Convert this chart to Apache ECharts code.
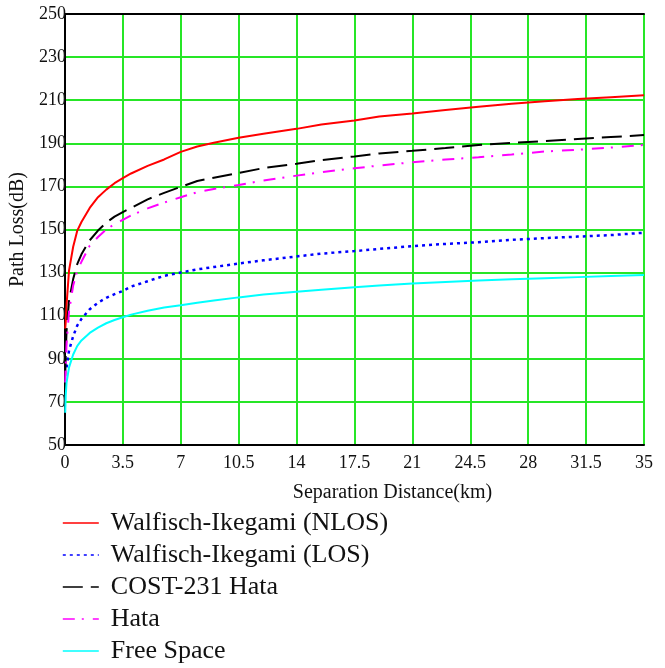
<!DOCTYPE html>
<html>
<head>
<meta charset="utf-8">
<script src="https://cdn.jsdelivr.net/npm/echarts@6/dist/echarts.min.js"></script>
<style>
  html, body { margin: 0; padding: 0; background: #ffffff; }
  #chart { width: 665px; height: 668px; }
</style>
</head>
<body>
<div id="chart"></div>
<script>
// Separation distance samples (km)
const distanceKm = [0.02, 0.05, 0.1, 0.25, 0.5, 0.75, 1, 1.5, 2, 2.5, 3, 3.5, 4, 5, 6, 7, 8, 9, 10.5, 12, 14, 15.5, 17.5, 19, 21, 23, 25, 27, 29, 31, 33, 35];

// Path loss (dB) for each propagation model
const wiNlos = [104, 107, 115, 131, 142, 149.5, 153.5, 160, 165, 168.5, 171.5, 173.8, 176, 179.5, 182.5, 186, 188.5, 190.3, 192.6, 194.4, 196.7, 198.7, 200.6, 202.4, 203.8, 205.5, 207, 208.3, 209.5, 210.5, 211.4, 212.3];
const wiLos = [null, null, 86, 93.8, 100.5, 105.5, 108.5, 113, 116, 118.3, 120, 121.5, 123.5, 126, 128.5, 130, 131.5, 132.6, 134.2, 135.7, 137.5, 138.8, 140, 141, 142.3, 143.3, 144.1, 145.2, 146, 146.7, 147.4, 148.5];
const cost231 = [82, 92, 103, 117, 127, 134, 138.5, 145, 149.5, 153.2, 156, 158.1, 160, 164, 167, 169.8, 172.5, 174, 176.2, 178.5, 180.5, 182.2, 183.9, 185.3, 186.5, 187.8, 189.2, 190.2, 191, 192, 192.9, 193.8];
const hata = [79, 87, 97, 112, 124, 131, 135, 142.5, 146.5, 150, 152.5, 154.5, 156.5, 159.8, 162.5, 165, 167.3, 168.8, 170.7, 172.7, 175, 176.6, 178.4, 179.7, 181.2, 182.5, 183.5, 184.8, 186.2, 187, 188, 189.2];
const freeSpace = [65, 73, 79, 86, 92, 96, 98.5, 102, 104.5, 106.5, 108, 109.3, 110.5, 112.3, 113.8, 114.8, 116, 117, 118.5, 119.8, 121.1, 122, 123.2, 124, 124.9, 125.6, 126.3, 126.9, 127.4, 127.9, 128.4, 128.9];

const seriesNames = ['Walfisch-Ikegami (NLOS)', 'Walfisch-Ikegami (LOS)', 'COST-231 Hata', 'Hata', 'Free Space'];

const serif = '"Liberation Serif", "DejaVu Serif", serif';

function pairs(values) {
  return distanceKm.map((d, i) => [d, values[i]]);
}

function lineSeries(name, values, color, type, width) {
  return {
    name: name,
    type: 'line',
    data: pairs(values),
    showSymbol: false,
    symbol: 'none',
    connectNulls: false,
    animation: false,
    lineStyle: { color: color, width: width, type: type },
    itemStyle: { color: color }
  };
}

const chart = echarts.init(document.getElementById('chart'), null, { renderer: 'canvas' });

const gridColor = '#26e626';

chart.setOption({
  backgroundColor: '#ffffff',
  animation: false,
  grid: { left: 64, right: 21, top: 14, bottom: 223, containLabel: false },
  legend: {
    show: true,
    orient: 'vertical',
    left: 62,
    top: 510,
    padding: 0,
    itemWidth: 36,
    itemHeight: 14,
    itemGap: 6,
    data: seriesNames,
    itemStyle: { opacity: 0 },
    lineStyle: { width: 1.6 },
    textStyle: { fontFamily: serif, fontSize: 26, color: '#111111', lineHeight: 26, padding: [0, 0, 0, 7] }
  },
  xAxis: [{
    type: 'value',
    min: 0,
    max: 35,
    interval: 3.5,
    name: 'Separation Distance(km)',
    nameLocation: 'middle',
    nameGap: 38,
    nameTextStyle: { fontFamily: serif, fontSize: 20, color: '#111111', padding: [0, 0, 0, 76] },
    axisLine: { show: true, onZero: false, lineStyle: { color: '#000000', width: 2 } },
    axisTick: { show: false },
    axisLabel: { fontFamily: serif, fontSize: 18, color: '#111111', margin: 9 },
    splitLine: { show: true, lineStyle: { color: gridColor, width: 2 } }
  }, {
    type: 'value',
    position: 'top',
    min: 0,
    max: 35,
    axisLine: { show: true, lineStyle: { color: '#000000', width: 2 } },
    axisTick: { show: false },
    axisLabel: { show: false },
    splitLine: { show: false }
  }],
  yAxis: [{
    type: 'value',
    min: 50,
    max: 250,
    interval: 20,
    name: 'Path Loss(dB)',
    nameLocation: 'middle',
    nameGap: 33,
    nameRotate: 90,
    nameTextStyle: { fontFamily: serif, fontSize: 20, color: '#111111' },
    axisLine: { show: true, onZero: false, lineStyle: { color: '#000000', width: 2 } },
    axisTick: { show: false },
    axisLabel: { fontFamily: serif, fontSize: 18, color: '#111111', margin: -1 },
    splitLine: { show: true, lineStyle: { color: gridColor, width: 2 } }
  }, {
    type: 'value',
    position: 'right',
    min: 50,
    max: 250,
    axisLine: { show: true, lineStyle: { color: '#000000', width: 2 } },
    axisTick: { show: false },
    axisLabel: { show: false },
    splitLine: { show: false }
  }],
  series: [
    lineSeries(seriesNames[0], wiNlos, '#ff0000', 'solid', 2),
    lineSeries(seriesNames[1], wiLos, '#0000ff', [3, 4], 2.5),
    lineSeries(seriesNames[2], cost231, '#000000', [20, 8], 2),
    lineSeries(seriesNames[3], hata, '#ff00ff', [12, 7, 2, 9], 2),
    lineSeries(seriesNames[4], freeSpace, '#00ffff', 'solid', 2)
  ]
});
</script>
</body>
</html>
